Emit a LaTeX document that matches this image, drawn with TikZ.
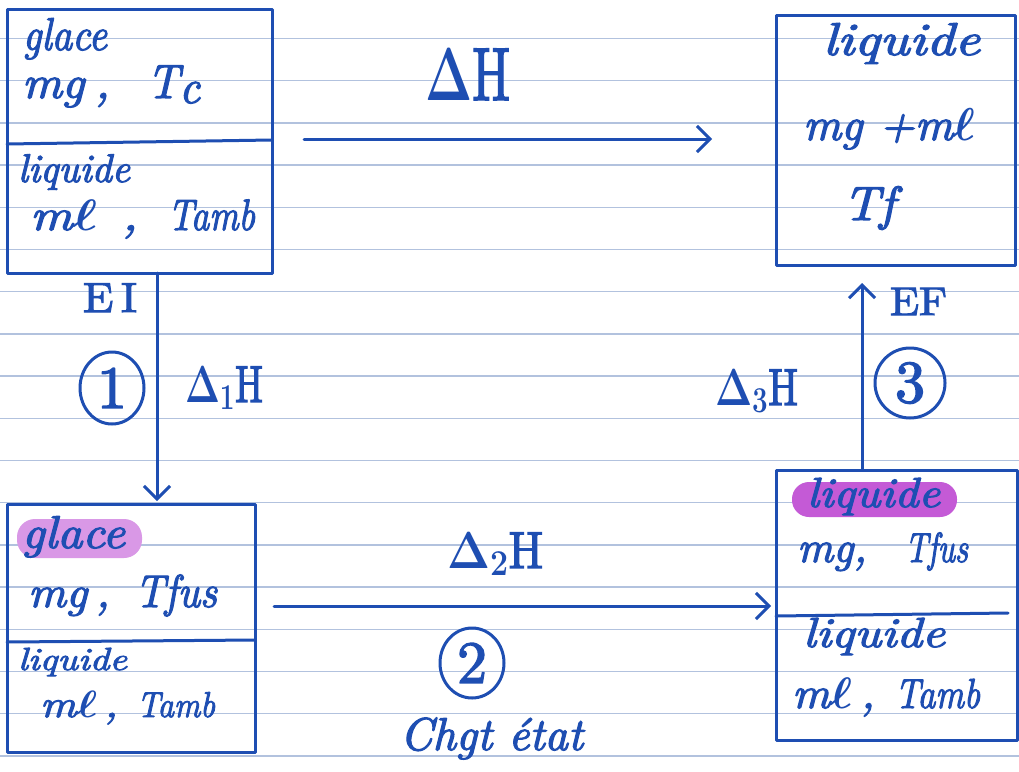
\RequirePackage{fix-cm}
\documentclass[tikz,border=0pt]{standalone}
\usepackage{graphicx}
\usepackage{bm}
\usepackage{fontspec}
\usetikzlibrary{arrows.meta,shapes.geometric,calc}
% pen-like weights of Latin Modern for the written words
\newfontface\handit{lmroman10-italic.otf}[FakeBold=2.5]
\newfontface\handup{lmroman10-regular.otf}[FakeBold=2.5]
\definecolor{ink}{RGB}{30,78,178}
\definecolor{ruling}{RGB}{178,194,222}
\definecolor{hlsoft}{RGB}{217,152,230}
\definecolor{hlstrong}{RGB}{196,90,214}
% font size shortcut and horizontal fitting of a handwritten word
\newcommand{\fs}[1]{\fontsize{#1}{#1}\selectfont}
\newcommand{\fitw}[2]{\resizebox{#1pt}{\height}{#2}}
\newcommand{\ellw}{$\bm{\ell}$}
\newcommand{\Dw}{$\bm{\Delta}$}

\begin{document}
\begin{tikzpicture}[x=1pt,y=-1pt,
  pen/.style={draw=ink, line width=3pt, line cap=round, line join=round},
  stbox/.style={pen, rectangle, inner sep=0pt, outer sep=0pt},
  arr/.style={pen, -{Straight Barb[length=13pt,width=26pt]}},
  hw/.style={inner sep=0pt, outer sep=0pt, anchor=base west, text=ink},
  ring/.style={pen, ellipse, inner sep=0pt, text=ink, font=\fs{60}\handup},
  rule/.style={draw=ruling, line width=1.4pt}]

% sheet and ruling
\fill[white] (0,0) rectangle (1019,771);
\useasboundingbox (0,0) rectangle (1019,771);
\foreach \k in {0,...,17}
  \draw[rule] (0,{38.5+42.2*\k}) -- (1019,{38.5+42.2*\k});

% highlighter marks
\fill[hlsoft, rounded corners=18pt] (17,519) rectangle (142,558);
\fill[hlstrong, rounded corners=17pt] (792,482) rectangle (957,517);

% state boxes
\node[stbox, minimum width=265pt, minimum height=264pt] (A) at (139.5,141) {};
\node[stbox, minimum width=239pt, minimum height=250pt] (B) at (895.5,140) {};
\node[stbox, minimum width=248pt, minimum height=248pt] (C) at (131,628) {};
\node[stbox, minimum width=241pt, minimum height=270pt] (D) at (896.5,605) {};

% phase dividers
\draw[pen] ([yshift=-135pt]A.north west) -- ([yshift=-131pt]A.north east);
\draw[pen] ([yshift=-138pt]C.north west) -- ([yshift=-136pt]C.north east);
\draw[pen] ([yshift=-146pt]D.north west) -- ([xshift=-9pt,yshift=-143pt]D.north east);

% transformation arrows
\coordinate (yh) at (0,139);
\coordinate (x1) at (157,0);
\coordinate (x3) at (862,0);
\coordinate (y2) at (0,606);
\draw[arr, shorten <=32pt, shorten >=64pt] (A.east |- yh) -- (B.west |- yh);
\draw[arr, shorten >=3pt] (A.south -| x1) -- (C.north -| x1);
\draw[arr, shorten >=18pt] (D.north -| x3) -- (B.south -| x3);
\draw[arr, shorten <=19pt, shorten >=5pt] (C.east |- y2) -- (D.west |- y2);

% box A: initial state
\node[hw, font=\fs{46}\handit] (a1) at (23,50) {\fitw{84}{glace}};
\node[hw, font=\fs{46}\handit] (a2) at (22,98) {\fitw{88}{mg\hspace{10pt},}};
\node[hw, font=\fs{48}\handit] (a3) at (147,98) {\fitw{53}{T\raisebox{-5pt}{c}}};
\node[hw, font=\fs{40}\handit] (a4) at (18,182) {\fitw{112}{liquide}};
\node[hw, font=\fs{44}\handit] (a5) at (30,230) {\fitw{108}{m\ellw\hspace{21pt},}};
\node[hw, font=\fs{44}\handit] (a6) at (168,230) {\fitw{87}{Tamb}};

% box B: final state
\node[hw, font=\fs{46}\handit] (b1) at (823,55) {\fitw{157}{liquide}};
\node[hw, font=\fs{46}\handit] (b2) at (803,140) {\fitw{172}{mg +m\ellw}};
\node[hw, font=\fs{48}\handit] (b3) at (843,220) {\fitw{52}{Tf}};

% box C: after warming the ice
\node[hw, font=\fs{46}\handit] (c1) at (22,548) {\fitw{103}{glace}};
\node[hw, font=\fs{44}\handit] (c2) at (28,607) {\fitw{82}{mg\hspace{8pt},}};
\node[hw, font=\fs{46}\handit] (c3) at (135,607) {\fitw{82}{Tfus}};
\node[hw, font=\fs{32}\handit] (c4) at (18,670) {\fitw{109}{liquide}};
\node[hw, font=\fs{38}\handit] (c5) at (40,717) {\fitw{78}{m\ellw\hspace{6pt},}};
\node[hw, font=\fs{36}\handit] (c6) at (137,717) {\fitw{78}{Tamb}};

% box D: after melting
\node[hw, font=\fs{42}\handit] (d1) at (807,507) {\fitw{133}{liquide}};
\node[hw, font=\fs{44}\handit] (d2) at (797,562) {\fitw{70}{mg,}};
\node[hw, font=\fs{42}\handit] (d3) at (905,562) {\fitw{63}{Tfus}};
\node[hw, font=\fs{42}\handit] (d4) at (803,647) {\fitw{142}{liquide}};
\node[hw, font=\fs{44}\handit] (d5) at (792,708) {\fitw{83}{m\ellw\hspace{8pt},}};
\node[hw, font=\fs{42}\handit] (d6) at (895,708) {\fitw{85}{Tamb}};

% enthalpy labels and step numbers
\node[hw, font=\fs{75}\handup] (dH) at (425,100) {\fitw{85}{\Dw H}};
\node[hw, font=\fs{42}\handup] (EI) at (83,312) {\fitw{54}{E\,I}};
\node[hw, font=\fs{52}\handup] (dH1) at (185,402) {\fitw{78}{$\bm{\Delta_1}$H}};
\node[hw, font=\fs{52}\handup] (dH2) at (447,568) {\fitw{96}{$\bm{\Delta_2}$H}};
\node[hw, font=\fs{52}\handup] (dH3) at (715,405) {\fitw{83}{$\bm{\Delta_3}$H}};
\node[hw, font=\fs{40}\handup] (EF) at (890,315) {\fitw{57}{EF}};
\node[hw, font=\fs{46}\handit] (chg) at (400,750) {\fitw{183}{Chgt état}};
\node[ring, minimum width=64pt, minimum height=72pt] (s1) at (112,388) {1};
\node[ring, minimum width=64pt, minimum height=70pt] (s2) at (472,663) {2};
\node[ring, minimum width=70pt, minimum height=70pt] (s3) at (910,383) {3};
\end{tikzpicture}
\end{document}
